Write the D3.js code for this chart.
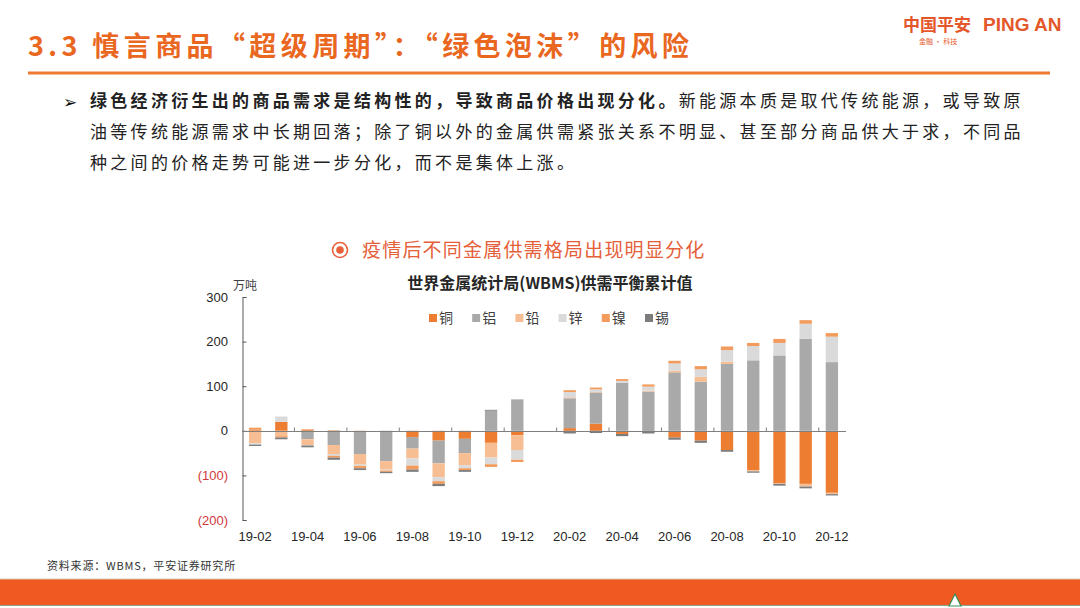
<!DOCTYPE html>
<html>
<head>
<meta charset="utf-8">
<script src="https://cdn.jsdelivr.net/npm/d3@7"></script>
<style>
  html, body { margin: 0; padding: 0; background: #fff; }
  svg { display: block; }
</style>
</head>
<body>
<div id="chart"></div>
<script>
// months on the x axis (20-01 has no data)
const months = ["19-02","19-03","19-04","19-05","19-06","19-07","19-08","19-09","19-10","19-11","19-12",
  "20-01","20-02","20-03","20-04","20-05","20-06","20-07","20-08","20-09","20-10","20-11","20-12"];
const metals = ["铜","铝","铅","锌","镍","锡"];

// cumulative balance, 万吨
const copper   = [3, 20, 3, 1, -2, 0, -14, -22, -18, -27, -10, null, 6, 16, -7, 0, -15, -22, -43, -88, -117, -119, -139];
const aluminum = [0, 0, -19, -32, -50, -68, -26, -51, -32, 45, 68, null, 67, 70, 108, 88, 131, 110, 150, 158, 169, 206, 154];
const lead     = [-28, -12, -13, -20, -24, -19, -22, -31, -27, -33, -33, null, 2, 1, 0, 2, 4, 11, 5, -3, -2, -6, -3];
const zinc     = [-3, 12, -1, -4, -3, -2, -16, -9, -7, -15, -22, null, 12, 6, 4, 9, 16, 17, 26, 32, 28, 34, 57];
const nickel   = [4, -3, 0, -4, -5, -3, -9, -6, -4, -6, -5, null, 4, 4, 4, 5, 6, 7, 8, 7, 9, 8, 8];
const tin      = [-3, -4, -4, -5, -4, -3, -5, -5, -4, 2, 2, null, -6, -5, -5, -6, -5, -5, -4, -3, -4, -4, -3];

const yTicks = [300, 200, 100, 0, -100, -200];

const seriesValues = [copper, aluminum, lead, zinc, nickel, tin];
const colors = ["#ED7D31", "#A9A9A9", "#F7BE93", "#DADADA", "#F29B5C", "#7C7C7C"];

const W = 1080, H = 608;
const orange = "#E9671F";

const svg = d3.select("#chart").append("svg")
  .attr("width", W).attr("height", H)
  .style("font-family", "'Noto Sans CJK SC', 'Noto Sans', sans-serif");

// ---- page header ----
svg.append("text")
  .attr("x", 28).attr("y", 56)
  .attr("fill", orange)
  .style("font-size", "27px").style("font-weight", "bold").style("letter-spacing", "4.4px")
  .text("3.3 慎言商品“超级周期”：“绿色泡沫”的风险");

svg.append("line")
  .attr("x1", 28).attr("x2", 1050).attr("y1", 73).attr("y2", 73)
  .attr("stroke", "#EE7A32").attr("stroke-width", 3);

svg.append("text")
  .attr("x", 903).attr("y", 31)
  .attr("fill", "#E4572A")
  .style("font-size", "17px").style("font-weight", "bold")
  .text("中国平安");
svg.append("text")
  .attr("x", 983).attr("y", 31)
  .attr("fill", "#E4572A")
  .style("font-family", "'Liberation Sans', Arial, sans-serif")
  .style("font-size", "19px").style("font-weight", "bold")
  .text("PING AN");
svg.append("text")
  .attr("x", 919).attr("y", 44)
  .attr("fill", "#E4572A")
  .style("font-size", "7px")
  .text("金融 · 科技");

// ---- bullet text ----
const bodyLines = [
  [{t: "绿色经济衍生出的商品需求是结构性的，导致商品价格出现分化。", b: true},
   {t: "新能源本质是取代传统能源，或导致原", b: false}],
  [{t: "油等传统能源需求中长期回落；除了铜以外的金属供需紧张关系不明显、甚至部分商品供大于求，不同品", b: false}],
  [{t: "种之间的价格走势可能进一步分化，而不是集体上涨。", b: false}]
];
svg.append("text")
  .attr("x", 63).attr("y", 108)
  .attr("fill", "#111")
  .style("font-family", "'DejaVu Sans', sans-serif")
  .style("font-size", "17px")
  .text("➢");
bodyLines.forEach((line, i) => {
  const t = svg.append("text")
    .attr("x", 90).attr("y", 107 + i * 31)
    .attr("fill", "#222")
    .style("font-size", "17px").style("letter-spacing", "3.3px");
  line.forEach(s => t.append("tspan").style("font-weight", s.b ? "bold" : "normal").text(s.t));
});

// ---- chart headings ----
const icon = svg.append("g").attr("transform", "translate(340,250)");
icon.append("circle").attr("r", 7.5).attr("fill", "none").attr("stroke", "#E8603A").attr("stroke-width", 1.6);
icon.append("circle").attr("r", 3.8).attr("fill", "#E8603A");

svg.append("text")
  .attr("x", 362).attr("y", 257)
  .attr("fill", "#E5603A")
  .style("font-size", "19px").style("letter-spacing", "1.2px")
  .text("疫情后不同金属供需格局出现明显分化");

svg.append("text")
  .attr("x", 550).attr("y", 289)
  .attr("text-anchor", "middle")
  .attr("fill", "#262626")
  .style("font-size", "16px").style("font-weight", "bold")
  .text("世界金属统计局(WBMS)供需平衡累计值");

svg.append("text")
  .attr("x", 233).attr("y", 290)
  .attr("fill", "#404040")
  .style("font-size", "12px")
  .text("万吨");

// ---- scales ----
const x = d3.scaleBand()
  .domain(months)
  .range([242, 845])
  .paddingInner(0.53)
  .paddingOuter(0.265);

const y = d3.scaleLinear()
  .domain([-200, 300])
  .range([520, 297]);

// ---- stacked bars ----
const rows = months.map((m, i) => {
  const r = {month: m};
  metals.forEach((k, j) => { r[k] = seriesValues[j][i] == null ? 0 : seriesValues[j][i]; });
  return r;
});

const stacked = d3.stack()
  .keys(metals)
  .offset(d3.stackOffsetDiverging)(rows);

const color = d3.scaleOrdinal().domain(metals).range(colors);

svg.append("g")
  .selectAll("g")
  .data(stacked)
  .join("g")
    .attr("fill", d => color(d.key))
  .selectAll("rect")
  .data(d => d)
  .join("rect")
    .attr("x", d => x(d.data.month))
    .attr("width", x.bandwidth())
    .attr("y", d => y(Math.max(d[0], d[1])))
    .attr("height", d => Math.abs(y(d[0]) - y(d[1])));

// ---- y axis ----
const yAxis = svg.append("g")
  .attr("transform", "translate(242.5,0)")
  .call(d3.axisRight(y).tickValues(yTicks).tickSize(4).tickFormat(""));
yAxis.select(".domain").attr("stroke", "#595959");
yAxis.selectAll(".tick line").attr("stroke", "#595959");

svg.append("g")
  .selectAll("text")
  .data(yTicks)
  .join("text")
    .attr("x", 228)
    .attr("y", d => y(d))
    .attr("dy", "0.35em")
    .attr("text-anchor", "end")
    .attr("fill", d => d < 0 ? "#D0383C" : "#262626")
    .style("font-family", "'Liberation Sans', Arial, sans-serif")
    .style("font-size", "13px")
    .text(d => d < 0 ? `(${-d})` : d);

// ---- x axis ----
const y0 = Math.round(y(0)) + 0.5;
svg.append("line")
  .attr("x1", 242).attr("x2", 846)
  .attr("y1", y0).attr("y2", y0)
  .attr("stroke", "#7F7F7F").attr("stroke-width", 1);

// tick marks every two months, between categories
const step = x.step();
svg.append("g")
  .selectAll("line")
  .data(months.filter((m, i) => i % 2 === 1 && i < months.length - 1))
  .join("line")
    .attr("x1", d => x(d) + x.bandwidth() / 2 + step / 2)
    .attr("x2", d => x(d) + x.bandwidth() / 2 + step / 2)
    .attr("y1", y0).attr("y2", y0 - 4)
    .attr("stroke", "#7F7F7F");

svg.append("g")
  .selectAll("text")
  .data(months.filter((m, i) => i % 2 === 0))
  .join("text")
    .attr("x", d => x(d) + x.bandwidth() / 2)
    .attr("y", 541)
    .attr("text-anchor", "middle")
    .attr("fill", "#262626")
    .style("font-family", "'Liberation Sans', Arial, sans-serif")
    .style("font-size", "13px")
    .text(d => d);

// ---- legend ----
const legend = svg.append("g")
  .selectAll("g")
  .data(metals)
  .join("g")
    .attr("transform", (d, i) => `translate(${429 + i * 43.2},318)`);
legend.append("rect")
  .attr("x", 0).attr("y", -4).attr("width", 8).attr("height", 8)
  .attr("fill", d => color(d));
legend.append("text")
  .attr("x", 10).attr("y", 0).attr("dy", "0.36em")
  .attr("fill", "#404040")
  .style("font-size", "14px")
  .text(d => d);

// ---- footer ----
svg.append("text")
  .attr("x", 47).attr("y", 570)
  .attr("fill", "#333")
  .style("font-size", "11px").style("letter-spacing", "0.8px")
  .text("资料来源：WBMS，平安证券研究所");

svg.append("rect")
  .attr("x", 0).attr("y", 579).attr("width", W).attr("height", 26)
  .attr("fill", "#F05A22");
svg.append("line")
  .attr("x1", 0).attr("x2", W).attr("y1", 579).attr("y2", 579)
  .attr("stroke", "#D9C7B3").attr("stroke-width", 1);
svg.append("line")
  .attr("x1", 0).attr("x2", W).attr("y1", 605.5).attr("y2", 605.5)
  .attr("stroke", "#8FA68A").attr("stroke-width", 1);
svg.append("path")
  .attr("d", "M949,606 L955,594 L961,606 Z")
  .attr("fill", "#fff").attr("stroke", "#3A8F5A").attr("stroke-width", 1.2);
</script>
</body>
</html>
